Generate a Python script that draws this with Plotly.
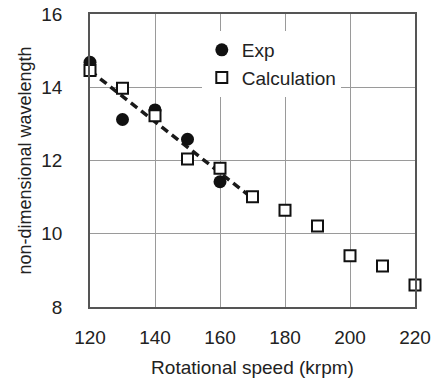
import plotly.graph_objects as go

exp_speed = [120, 130, 140, 150, 160]
exp_wavelength = [14.68, 13.12, 13.38, 12.58, 11.42]

calc_speed = [120, 130, 140, 150, 160, 170, 180, 190, 200, 210, 220]
calc_wavelength = [14.46, 13.97, 13.22, 12.04, 11.79, 11.01, 10.64, 10.21, 9.40, 9.12, 8.60]

trend_speed = [120, 170]
trend_wavelength = [14.45, 10.97]

x_ticks = [120, 140, 160, 180, 200, 220]
y_ticks = [8, 10, 12, 14, 16]

txt = "#222222"
font = "Liberation Sans, Arial, sans-serif"

fig = go.Figure()
fig.add_trace(go.Scatter(
    x=trend_speed, y=trend_wavelength, mode="lines",
    line=dict(color="#1a1a1a", width=3.5, dash="8px,5px"),
    showlegend=False, hoverinfo="skip", cliponaxis=False))
fig.add_trace(go.Scatter(
    x=exp_speed, y=exp_wavelength, mode="markers", name="Exp",
    cliponaxis=False,
    marker=dict(symbol="circle", size=13, color="#111111",
                line=dict(width=0))))
fig.add_trace(go.Scatter(
    x=calc_speed, y=calc_wavelength, mode="markers", name="Calculation",
    cliponaxis=False,
    marker=dict(symbol="square", size=11, color="white",
                line=dict(width=2, color="#111111"))))

fig.update_layout(
    width=435, height=380,
    margin=dict(l=90, r=20, t=14, b=73, autoexpand=False),
    paper_bgcolor="white", plot_bgcolor="white",
    font=dict(family=font, size=19, color=txt),
    legend=dict(x=0.344, y=0.942, xanchor="left", yanchor="top",
                bgcolor="white", font=dict(size=19, color=txt),
                itemwidth=30, tracegroupgap=0,
                borderwidth=0),
)
fig.update_xaxes(
    range=[120, 220], tickvals=x_ticks, showgrid=True,
    gridcolor="#9a9a9a", gridwidth=1, zeroline=False,
    showline=True, linecolor="#555555", linewidth=1.5, mirror=True,
    ticks="", ticklabelstandoff=12, automargin=True,
    ticklabeloverflow="allow",
    title=dict(text="Rotational speed (krpm)", standoff=14,
               font=dict(size=19, color=txt)),
    tickfont=dict(size=19, color=txt))
fig.update_yaxes(
    range=[8, 16], tickvals=y_ticks, showgrid=True,
    gridcolor="#9a9a9a", gridwidth=1, zeroline=False,
    showline=True, linecolor="#555555", linewidth=1.5, mirror=True,
    ticks="", ticklabelstandoff=22, automargin=True,
    ticklabeloverflow="allow",
    title=dict(text="non-dimensional wavelength", standoff=5,
               font=dict(size=18, color=txt)),
    tickfont=dict(size=19, color=txt))

fig.write_html("out.html",
               config={"displayModeBar": False},
               post_script="document.body.style.margin='0';")
